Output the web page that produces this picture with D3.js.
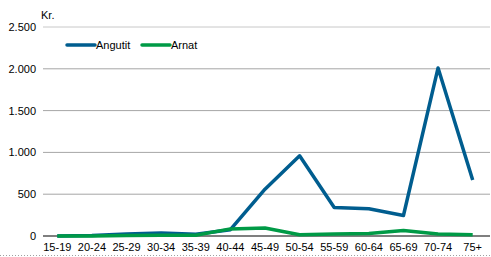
<!DOCTYPE html>
<html>
<head>
<meta charset="utf-8">
<script src="https://cdn.jsdelivr.net/npm/d3@7"></script>
<style>
body { margin: 0; background: #fff; }
svg text { font-family: "Liberation Sans", Arial, sans-serif; font-size: 11px; fill: #000; }
</style>
</head>
<body>
<svg></svg>
<script>
var width = 491, height = 257;
var categories = ["15-19", "20-24", "25-29", "30-34", "35-39", "40-44", "45-49", "50-54", "55-59", "60-64", "65-69", "70-74", "75+"];
var angutit = [0, 5, 25, 35, 20, 75, 560, 960, 340, 325, 245, 2010, 670];
var arnat   = [0, 0, 5, 10, 10, 85, 95, 15, 25, 30, 65, 25, 15];
var yTicks = [0, 500, 1000, 1500, 2000, 2500];
var seriesNames = ["Angutit", "Arnat"];
var colors = ["#005d8f", "#009a46"];

var svg = d3.select("svg").attr("width", width).attr("height", height);

var x = d3.scaleBand().domain(categories).range([40, 490]);
var y = d3.scaleLinear().domain([0, 2500]).range([236, 27]);
var fmt = d => d3.format(",")(d).replace(/,/g, ".");

// gitterlinjer
svg.append("g")
  .selectAll("line")
  .data(yTicks.filter(d => d > 0))
  .enter()
  .append("line")
  .attr("x1", 43).attr("x2", 490)
  .attr("y1", d => y(d)).attr("y2", d => y(d))
  .attr("stroke", d => d == 2500 ? "#c8c8c8" : "#a6a6a6")
  .attr("stroke-width", 1);

// y-akse tekster
svg.append("g")
  .attr("transform", "translate(36,0)")
  .call(d3.axisLeft(y).tickValues(yTicks).tickFormat(fmt).tickSize(0).tickPadding(0))
  .call(g => g.select(".domain").remove())
  .selectAll("text")
  .style("font-family", "'Liberation Sans', Arial, sans-serif")
  .style("font-size", "11px")
  .attr("fill", "#000");

// nul-linje
svg.append("line")
  .attr("x1", 43).attr("x2", 490)
  .attr("y1", y(0)).attr("y2", y(0))
  .attr("stroke", "#7f7f7f").attr("stroke-width", 2);

// x-akse tekster
svg.append("g")
  .attr("transform", "translate(0," + (y(0) + 3) + ")")
  .call(d3.axisBottom(x).tickSize(0).tickPadding(4))
  .call(g => g.select(".domain").remove())
  .selectAll("text")
  .style("font-family", "'Liberation Sans', Arial, sans-serif")
  .style("font-size", "11px")
  .attr("fill", "#000");

// stiplet linje nederst
svg.append("line")
  .attr("x1", 0).attr("x2", width)
  .attr("y1", 255.5).attr("y2", 255.5)
  .attr("stroke", "#a0a0a0").attr("stroke-dasharray", "1,2");

svg.append("text").attr("x", 41).attr("y", 19).text("Kr.");

var line = d3.line()
  .x((d, i) => x(categories[i]) + x.bandwidth() / 2)
  .y(d => y(d));

[angutit, arnat].forEach(function(s, i) {
  svg.append("path")
    .datum(s)
    .attr("d", line)
    .attr("fill", "none")
    .attr("stroke", colors[i])
    .attr("stroke-width", 3.5)
    .attr("stroke-linejoin", "round");
});

// forklaring
var legX = [67, 142];
var leg = svg.append("g")
  .selectAll("g")
  .data(seriesNames)
  .enter()
  .append("g")
  .attr("transform", (d, i) => "translate(" + legX[i] + ",45)");
leg.append("line")
  .attr("x1", 0).attr("x2", 28)
  .attr("stroke", (d, i) => colors[i])
  .attr("stroke-width", 3.5)
  .attr("stroke-linecap", "round");
leg.append("text")
  .attr("x", 29).attr("y", 4)
  .text(d => d);
</script>
</body>
</html>
